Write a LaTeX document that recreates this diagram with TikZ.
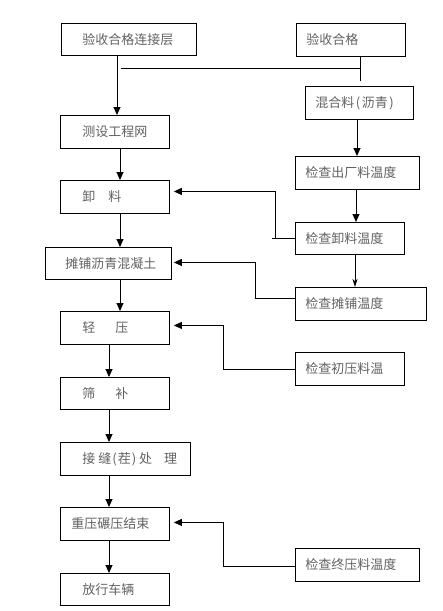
\documentclass[tikz,border=0pt]{standalone}
\usepackage{fontspec}
\setmainfont{Noto Sans CJK SC}
\usetikzlibrary{arrows.meta}
\newcommand\flowbox[7]{\node[fbox, minimum width=#4pt, minimum height=#5pt, anchor=north west] (#1) at (#2,#3) {\makebox[#4pt][l]{\hspace*{#6pt}#7}};}
\begin{document}
\begin{tikzpicture}[x=1pt,y=-1pt,
  fbox/.style={draw=black, line width=0.9pt, inner sep=0pt, text=black!62,
    font=\fontsize{13pt}{15pt}\selectfont},
  conn/.style={draw=black, line width=0.9pt},
  arr/.style={conn, -{Triangle[width=7pt,length=8pt]}},
  narr/.style={conn, -{Stealth[width=5pt,length=8pt,inset=2.5pt]}}]
\useasboundingbox (0,0) rectangle (443,611);
% left column
\flowbox{A}{61}{23}{135}{32}{21}{验收合格连接层}
\flowbox{C}{60}{115}{109}{33}{22}{测设工程网}
\flowbox{F}{60}{180}{109}{33}{22}{卸　料}
\flowbox{H}{45}{247}{126}{32}{20}{摊铺沥青混凝土}
\flowbox{J}{60}{311}{109}{33}{22}{轻\hspace{20pt}压}
\flowbox{L}{60}{377}{109}{32}{22}{筛\hspace{20pt}补}
\flowbox{M}{60}{442}{130}{33}{22}{接\hspace{3pt}缝\hspace{1pt}(\hspace{1pt}茬\hspace{1pt})\hspace{3pt}处\hspace{12pt}理}
\flowbox{N}{60}{507}{109}{33}{11}{重压碾压结束}
\flowbox{P}{60}{573}{109}{32}{22}{放行车辆}
% right column
\flowbox{B}{296}{23}{109}{33}{10}{验收合格}
\flowbox{D}{305}{86}{108}{33}{10}{混合料\hspace{1.5pt}(\hspace{1.5pt}沥青\hspace{1.5pt})}
\flowbox{E}{295}{156}{124}{33}{10}{检查出厂料温度}
\flowbox{G}{295}{222}{109}{32}{10}{检查卸料温度}
\flowbox{I}{295}{287}{131}{33}{10}{检查摊铺温度}
\flowbox{K}{295}{352}{109}{33}{10}{检查初压料温}
\flowbox{O}{295}{548}{124}{33}{10}{检查终压料温度}
% junction coordinates
\coordinate (j1) at (121,68);
\coordinate (j2) at (360,68);
\coordinate (j3) at (360,81);
% main flow
\draw[arr] ([xshift=56pt]A.south west) -- ([xshift=57pt]C.north west);
\draw[conn] ([xshift=64pt]B.south west) -- (j3);
\draw[conn] (j1) -- (j2);
\draw[arr] ([xshift=60pt]C.south west) -- ([xshift=60pt]F.north west);
\draw[arr] ([xshift=60pt]F.south west) -- ([xshift=75pt]H.north west);
\draw[arr] ([xshift=75pt]H.south west) -- ([xshift=60pt]J.north west);
\draw[arr] ([xshift=49pt]J.south west) -- ([xshift=49pt]L.north west);
\draw[arr] ([xshift=49pt]L.south west) -- ([xshift=49pt]M.north west);
\draw[arr] ([xshift=49pt]M.south west) -- ([xshift=49pt]N.north west);
\draw[arr] ([xshift=49pt]N.south west) -- ([xshift=49pt]P.north west);
\draw[arr] ([xshift=52pt]D.south west) -- ([xshift=62pt]E.north west);
\draw[arr] ([xshift=61pt]E.south west) -- ([xshift=61pt]G.north west);
\draw[narr] ([xshift=60pt]G.south west) -- ([xshift=60pt]I.north west);
% feedback checks
\draw[conn] ([yshift=0pt]G.west) -- ++(-23,0);
\draw[arr] ([xshift=-20pt]G.west) |- ([xshift=4pt,yshift=5.5pt]F.east);
\draw[arr] ([yshift=5.5pt]I.west) -- ++(-40,0) |- ([xshift=2pt,yshift=1pt]H.east);
\draw[arr] (K.west) -- ++(-72,0) |- ([xshift=4pt,yshift=2.5pt]J.east);
\draw[arr] ([yshift=-1.5pt]O.west) -- ++(-72,0) |- ([xshift=4pt,yshift=1.5pt]N.east);
\end{tikzpicture}
\end{document}
